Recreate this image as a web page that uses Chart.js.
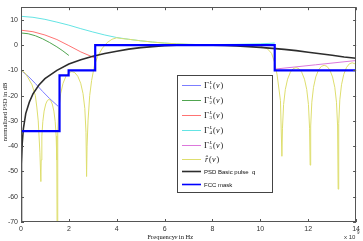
<!DOCTYPE html>
<html>
<head>
<meta charset="utf-8">
<script src="https://cdn.jsdelivr.net/npm/chart.js@4/dist/chart.umd.min.js"></script>
<style>
  body { margin: 0; background: #fff; }
  canvas { display: block; }
</style>
</head>
<body>
<canvas id="myChart" width="363" height="241"></canvas>
<script>
'use strict';
// axis ticks
let xTicks = [0, 2, 4, 6, 8, 10, 12, 14];
let yTicks = [-70, -60, -50, -40, -30, -20, -10, 0, 10];

// Gamma_1 .. Gamma_5 (frequency in GHz, level in dB)
let g1Freq = [0, 0.3, 0.6, 0.9, 1.2, 1.55];
let g1Db = [-10, -12.3, -15.2, -18.3, -21.2, -24.2];
let g2Freq = [0, 0.3, 0.6, 0.9, 1.2, 1.5, 1.75, 2.0];
let g2Db = [4.8, 4.5, 3.7, 2.5, 1.0, -0.7, -2.3, -4.1];
let g3Freq = [0, 0.5, 1.0, 1.5, 2.0, 2.5, 3.07];
let g3Db = [5.9, 5.3, 4.0, 2.2, -0.2, -2.7, -5.0];
let g4Freq = [0, 0.5, 1, 1.5, 2, 2.5, 3, 3.5, 4, 4.5, 5, 5.5, 6, 6.5, 7, 7.5, 8, 9, 10, 10.6];
let g4Db = [11.4, 11.0, 10.2, 9.1, 7.9, 6.5, 5.2, 4.0, 3.0, 2.3, 1.7, 1.2, 0.8, 0.5, 0.3, 0.2, 0.2, 0.3, 0.5, 0.8];
let g5Freq = [10.6, 12.3, 14];
let g5Db = [-9.5, -7.8, -6.1];

// r hat
let rFreq = [0, 0.17, 0.3, 0.46, 0.6, 0.66, 0.72, 0.79, 0.83,
  0.844, 0.871, 0.912, 0.966, 1.034, 1.102, 1.17, 1.238, 1.306, 1.374, 1.428, 1.469, 1.496, 1.51,
  1.535, 1.584, 1.658, 1.756, 1.879, 2.002, 2.125, 2.248, 2.371, 2.494, 2.592, 2.666, 2.715, 2.74,
  2.76, 2.8, 2.87, 2.95, 3.07, 3.2, 3.4, 3.6, 3.8, 4.0, 4.2, 4.5, 5, 5.5, 6, 6.5, 7, 7.5, 8, 9, 9.8,
  10.0, 10.3, 10.47, 10.6, 10.7, 10.84, 10.9,
  10.924, 10.971, 11.042, 11.136, 11.254, 11.372, 11.49, 11.608, 11.726, 11.844, 11.938, 12.009, 12.056, 12.08,
  12.103, 12.15, 12.22, 12.314, 12.431, 12.548, 12.665, 12.782, 12.899, 13.016, 13.11, 13.18, 13.227, 13.25,
  13.273, 13.32, 13.39, 13.484, 13.601, 13.718, 13.835, 13.952, 14.0];
let rDb = [-10, -11, -13, -15.7, -20, -24.5, -30, -42.6, -54,
  -45.5, -36, -30.2, -26.1, -23.3, -21.9, -21.5, -21.9, -23.3, -26.1, -30.2, -36, -45.5, -80,
  -34.5, -25.1, -19.2, -15.1, -12.3, -10.9, -10.5, -10.9, -12.3, -15.1, -19.2, -25.1, -34.5, -52,
  -40, -30, -20, -14, -8, -4.5, -1.2, 1.0, 2.3, 2.9, 2.6, 2.3, 1.7, 1.2, 0.8, 0.5, 0.3, 0.2, 0.1, 0, 0,
  -0.4, -1.5, -3.3, -7, -11.8, -22, -44,
  -32.9, -23.5, -17.6, -13.5, -10.7, -9.3, -8.9, -9.3, -10.7, -13.5, -17.6, -23.5, -32.9, -47.5,
  -32, -22.6, -16.7, -12.6, -9.8, -8.4, -8.0, -8.4, -9.8, -12.6, -16.7, -22.6, -32, -57,
  -31, -21.6, -15.7, -11.6, -8.8, -7.4, -7.0, -7.4, -7.7];

// PSD basic pulse q
let qFreq = [0, 0.02, 0.05, 0.1, 0.2, 0.35, 0.5, 0.75, 1, 1.5, 2, 2.5, 3, 3.5, 4, 4.5, 5, 5.5, 6, 6.5, 7, 7.5,
  8, 8.5, 9, 9.5, 10, 10.5, 11, 11.5, 12, 12.5, 13, 13.5, 14];
let qDb = [-80, -47, -39, -33, -27, -22.5, -19.3, -15.8, -13.3, -10, -7.5, -5.8, -4.4, -3.3, -2.4, -1.6, -1.0, -0.6,
  -0.25, -0.08, 0, 0, -0.05, -0.15, -0.35, -0.6, -0.9, -1.3, -1.7, -2.2, -2.8, -3.4, -4.0, -4.7, -5.2];

// FCC mask
let fccFreq = [0, 1.61, 1.61, 1.99, 1.99, 3.1, 3.1, 10.6, 10.6, 14];
let fccDb = [-34, -34, -12, -12, -10, -10, 0, 0, -10, -10];

function pts(xs, ys) {
  return xs.map((x, i) => ({x: x, y: ys[i]}));
}

let series = [
  {name: 'g', sub: '1', data: pts(g1Freq, g1Db), color: 'rgb(125,125,255)', width: 1, order: 5},
  {name: 'g', sub: '2', data: pts(g2Freq, g2Db), color: 'rgb(80,165,80)', width: 1, order: 5},
  {name: 'g', sub: '3', data: pts(g3Freq, g3Db), color: 'rgb(255,115,115)', width: 1, order: 5},
  {name: 'g', sub: '4', data: pts(g4Freq, g4Db), color: 'rgb(100,228,228)', width: 1, order: 4},
  {name: 'g', sub: '5', data: pts(g5Freq, g5Db), color: 'rgb(220,120,220)', width: 1, order: 5},
  {name: 'r', data: pts(rFreq, rDb), color: 'rgb(222,222,110)', width: 1, order: 3},
  {name: 'PSD Basic pulse  q', data: pts(qFreq, qDb), color: 'rgb(45,45,45)', width: 1.6, order: 1},
  {name: 'FCC mask', data: pts(fccFreq, fccDb), color: 'rgb(0,0,255)', width: 2.2, order: 0}
];

let sans = '"Liberation Sans", Arial, sans-serif';
let serif = '"Liberation Serif", "Times New Roman", serif';

// frame, inward ticks, labels, legend
let decor = {
  id: 'decor',
  beforeDraw(chart) {
    let c = chart.ctx;
    c.save();
    c.fillStyle = '#fff';
    c.fillRect(0, 0, chart.width, chart.height);
    c.restore();
  },
  afterDraw(chart) {
    let c = chart.ctx;
    let a = chart.chartArea;
    let xs = chart.scales.x, ys = chart.scales.y;
    c.save();
    c.strokeStyle = '#555';
    c.lineWidth = 1;
    c.strokeRect(Math.round(a.left) + 0.5, Math.round(a.top) + 0.5, Math.round(a.right - a.left) - 1, Math.round(a.bottom - a.top) - 1);
    c.beginPath();
    xTicks.forEach(v => {
      let p = Math.round(xs.getPixelForValue(v)) + 0.5;
      c.moveTo(p, a.bottom); c.lineTo(p, a.bottom - 3);
      c.moveTo(p, a.top); c.lineTo(p, a.top + 3);
    });
    yTicks.forEach(v => {
      let p = Math.round(ys.getPixelForValue(v)) + 0.5;
      c.moveTo(a.left, p); c.lineTo(a.left + 3, p);
      c.moveTo(a.right, p); c.lineTo(a.right - 3, p);
    });
    c.stroke();

    // axis titles
    c.fillStyle = '#111';
    c.font = '6.5px ' + serif;
    c.textAlign = 'center';
    c.textBaseline = 'alphabetic';
    c.fillText('Frequency ', 162, 239);
    c.font = 'italic 6.5px ' + serif;
    c.fillText('\u03bd', 176, 239);
    c.font = '6.5px ' + serif;
    c.fillText('in Hz', 186, 239);
    c.save();
    c.translate(7, 112);
    c.rotate(-Math.PI / 2);
    c.font = '6.5px ' + serif;
    c.fillText('normalized PSD in dB', 0, 0);
    c.restore();
    c.textAlign = 'left';
    c.fillStyle = '#333';
    c.font = '6px ' + sans;
    c.fillText('x 10', 344, 239);
    c.font = '4.5px ' + sans;
    c.fillText('9', 357, 234);

    // legend box
    c.fillStyle = '#fff';
    c.fillRect(177, 75, 95, 117);
    c.strokeStyle = '#444';
    c.strokeRect(177.5, 75.5, 95, 117);
    let rows = [85, 100, 115, 130, 145, 159, 171, 184];
    series.forEach((s, i) => {
      let y = rows[i] + 0.5;
      c.strokeStyle = s.color;
      c.lineWidth = s.width > 1.5 ? 1.6 : 1;
      c.beginPath();
      c.moveTo(182, y); c.lineTo(201, y);
      c.stroke();
      c.fillStyle = '#111';
      c.textBaseline = 'middle';
      if (s.name === 'g') {
        c.font = '8.5px ' + serif;
        c.fillText('\u0393', 204, y + 0.5);
        c.font = 'italic 5px ' + serif;
        c.fillText('L', 209.5, y - 2.5);
        c.font = '5px ' + serif;
        c.fillText(s.sub, 209.5, y + 2.5);
        c.font = '8px ' + serif;
        c.fillText('(', 213, y + 0.5);
        c.font = 'italic 8px ' + serif;
        c.fillText('\u03bd', 216, y + 0.5);
        c.font = '8px ' + serif;
        c.fillText(')', 220.5, y + 0.5);
      } else if (s.name === 'r') {
        c.font = 'italic 8px ' + serif;
        c.fillText('r\u0302', 205, y + 0.5);
        c.font = '8px ' + serif;
        c.fillText('(', 209, y + 0.5);
        c.font = 'italic 8px ' + serif;
        c.fillText('\u03bd', 212, y + 0.5);
        c.font = '8px ' + serif;
        c.fillText(')', 216.5, y + 0.5);
      } else {
        c.font = '6px ' + sans;
        c.fillText(s.name, 204, y + 0.5);
      }
    });
    c.restore();
  }
};

let ctx = document.getElementById('myChart').getContext('2d');
let myChart = new Chart(ctx, {
  type: 'line',
  data: {
    datasets: series.map(s => ({
      label: s.name,
      data: s.data,
      borderColor: s.color,
      backgroundColor: s.color,
      borderWidth: s.width,
      pointRadius: 0,
      tension: 0,
      fill: false,
      order: s.order
    }))
  },
  options: {
    responsive: false,
    animation: false,
    devicePixelRatio: 1,
    layout: {padding: {left: 0, top: 1, right: 5, bottom: 0}},
    plugins: {legend: {display: false}, tooltip: {enabled: false}},
    scales: {
      x: {
        type: 'linear',
        min: 0,
        max: 14,
        grid: {display: false, drawTicks: false},
        border: {display: false},
        ticks: {
          stepSize: 2,
          padding: 3,
          maxRotation: 0,
          color: '#333',
          font: {size: 7, family: sans},
          callback: v => xTicks.includes(v) ? v : ''
        },
        afterFit: s => { s.height = 19; }
      },
      y: {
        type: 'linear',
        min: -70,
        max: 15,
        grid: {display: false, drawTicks: false},
        border: {display: false},
        ticks: {
          stepSize: 10,
          padding: 3,
          color: '#333',
          font: {size: 7, family: sans},
          callback: v => yTicks.includes(v) ? v : ''
        },
        afterFit: s => { s.width = 21; }
      }
    }
  },
  plugins: [decor]
});
</script>
</body>
</html>
